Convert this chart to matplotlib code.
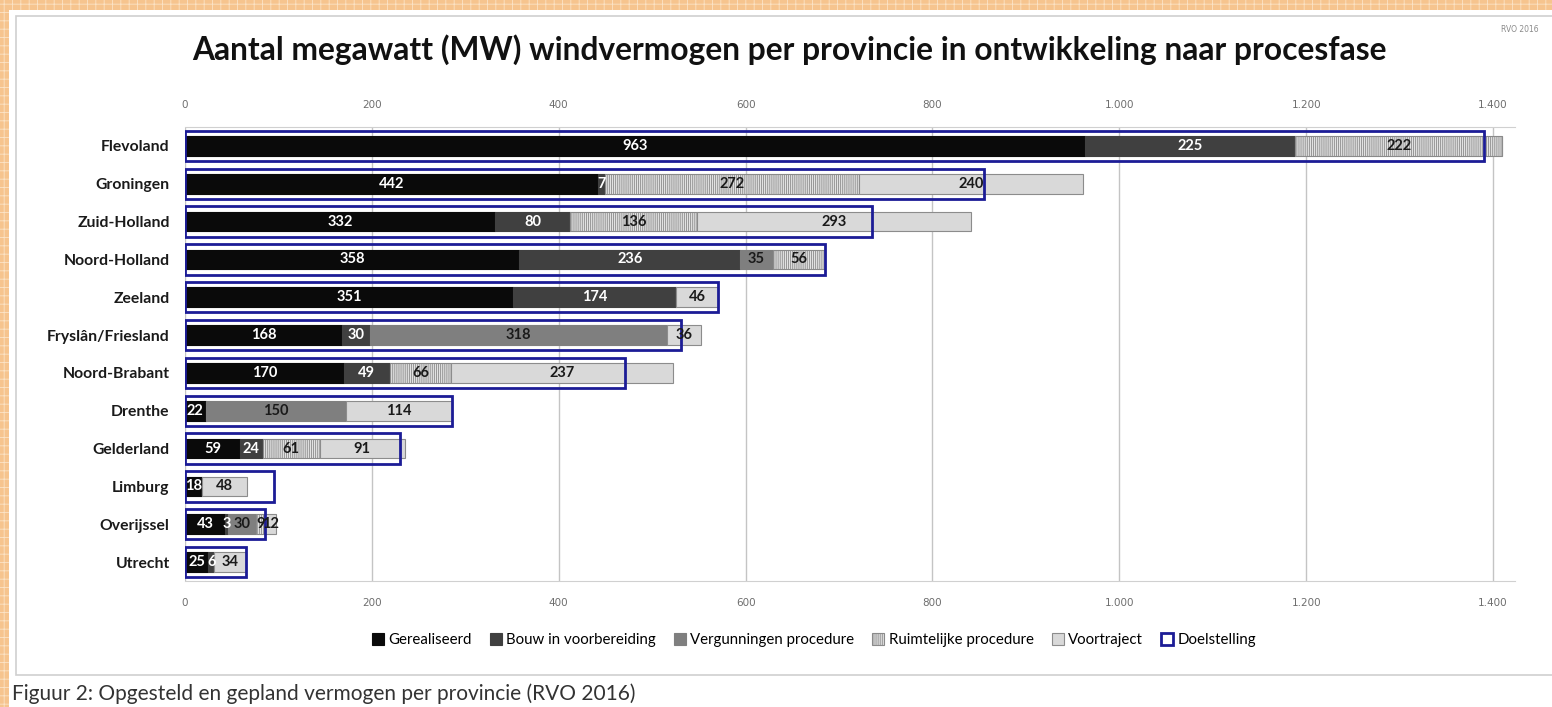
import matplotlib
matplotlib.use("Agg")
import matplotlib.pyplot as plt
from matplotlib.patches import Rectangle, Patch
from matplotlib.ticker import FuncFormatter
import numpy as np

plt.rcParams['hatch.linewidth'] = 0.6

provinces = ['Flevoland', 'Groningen', 'Zuid-Holland', 'Noord-Holland', 'Zeeland',
             'Fryslân/Friesland', 'Noord-Brabant', 'Drenthe', 'Gelderland',
             'Limburg', 'Overijssel', 'Utrecht']
gerealiseerd = [963, 442, 332, 358, 351, 168, 170, 22, 59, 18, 43, 25]
bouw = [225, 7, 80, 236, 174, 30, 49, 0, 24, 0, 3, 6]
vergunningen = [0, 0, 0, 35, 0, 318, 0, 150, 0, 0, 30, 0]
ruimtelijk = [222, 272, 136, 56, 0, 0, 66, 0, 61, 0, 9, 0]
voortraject = [0, 240, 293, 0, 46, 36, 237, 114, 91, 48, 12, 34]
doelstelling = [1390.5, 855.5, 735.5, 685.5, 570.5, 530.5, 470.5, 285.5, 230.5, 95.5, 85.5, 65.5]
xticks = [0, 200, 400, 600, 800, 1000, 1200, 1400]

series_names = ['Gerealiseerd', 'Bouw in voorbereiding', 'Vergunningen procedure',
                'Ruimtelijke procedure', 'Voortraject']
series = [gerealiseerd, bouw, vergunningen, ruimtelijk, voortraject]
faces = ['#0a0a0a', '#404040', '#7f7f7f', '#e2e2e2', '#d9d9d9']
edges = ['#0a0a0a', '#404040', '#7f7f7f', '#8a8a8a', '#8c8c8c']
hatches = [None, None, None, '||||||||', None]
label_colors = ['white', 'white', '#1a1a1a', '#1a1a1a', '#1a1a1a']
blue = '#1c1c96'

W, H = 1552, 707
fig = plt.figure(figsize=(W / 100, H / 100), dpi=100)
fig.patch.set_facecolor('white')

def px(x0, y0, w, h, **kw):
    r = Rectangle((x0 / W, 1 - (y0 + h) / H), w / W, h / H, transform=fig.transFigure, **kw)
    fig.add_artist(r)
    return r

# orange patterned border
px(0, 0, W, 10, facecolor='#f6c48e', edgecolor='#fbe3c6', hatch='++', linewidth=0, zorder=0)
px(0, 0, 9, H, facecolor='#f6c48e', edgecolor='#fbe3c6', hatch='++', linewidth=0, zorder=0)
# chart box
px(16, 16, W + 20, 659, facecolor='white', edgecolor='#cfcfcf', linewidth=1.2, zorder=0)

ax = fig.add_axes([185 / W, 1 - 581 / H, 1330 / W, 454 / H])
ax.set_facecolor('none')
y = np.arange(len(provinces))
left = np.zeros(len(provinces))
for name, vals, fc, ec, ht, lc in zip(series_names, series, faces, edges, hatches, label_colors):
    vals = np.array(vals, dtype=float)
    ax.barh(y, vals, left=left, height=0.52, color=fc, edgecolor=ec,
            hatch=ht, linewidth=0.8, zorder=2)
    for yi, (l, v) in enumerate(zip(left, vals)):
        if v > 0:
            ax.text(l + v / 2, yi, f'{int(v)}', ha='center', va='center', color=lc,
                    fontsize=10.5, fontweight='bold', family='Lato', zorder=4)
    left += vals

ax.barh(y, doelstelling, height=0.8, fill=False, edgecolor=blue, linewidth=2.0, zorder=3)

ax.set_xlim(0, 1423.5)
ax.set_ylim(len(provinces) - 0.5, -0.5)
ax.set_xticks(xticks)
ax.xaxis.set_major_formatter(FuncFormatter(lambda v, p: f'{int(v):,}'.replace(',', '.')))
ax.tick_params(axis='x', which='both', length=0, labelsize=7.5, labelcolor='#6e6e6e',
               top=True, labeltop=True, bottom=True, labelbottom=True, pad=12)
ax.set_yticks(y)
ax.set_yticklabels(provinces, fontsize=11.3, fontweight='bold', family='Lato', color='#1a1a1a')
ax.tick_params(axis='y', length=0, pad=11)
ax.grid(axis='x', color='#c4c4c4', linewidth=1, zorder=0)
ax.set_axisbelow(True)
for s in ['left', 'right']:
    ax.spines[s].set_visible(False)
for s in ['top', 'bottom']:
    ax.spines[s].set_color('#d0d0d0')

fig.text(789 / W, 1 - 50 / H, 'Aantal megawatt (MW) windvermogen per provincie in ontwikkeling naar procesfase',
         ha='center', va='center', fontsize=22.9, fontweight='bold', family='Lato', color='#111111')
fig.text(1520 / W, 1 - 30 / H, 'RVO 2016', ha='center', va='center', fontsize=5.5, color='#8a8a8a')
fig.text(12 / W, 1 - 694 / H, 'Figuur 2: Opgesteld en gepland vermogen per provincie (RVO 2016)',
         ha='left', va='center', fontsize=15, family='Lato', color='#333333')

handles = [Patch(facecolor=fc, edgecolor=ec, hatch=ht, linewidth=0.8)
           for fc, ec, ht in zip(faces, edges, hatches)]
handles.append(Patch(facecolor='white', edgecolor=blue, linewidth=2))
leg = fig.legend(handles, series_names + ['Doelstelling'], loc='center',
                 bbox_to_anchor=(814 / W, 1 - 640 / H), ncol=6, frameon=False,
                 prop={'family': 'Lato', 'size': 10.8}, handlelength=0.8, handleheight=0.8,
                 handletextpad=0.3, columnspacing=1.2)

fig.savefig('out.png', dpi=100, facecolor='white')
